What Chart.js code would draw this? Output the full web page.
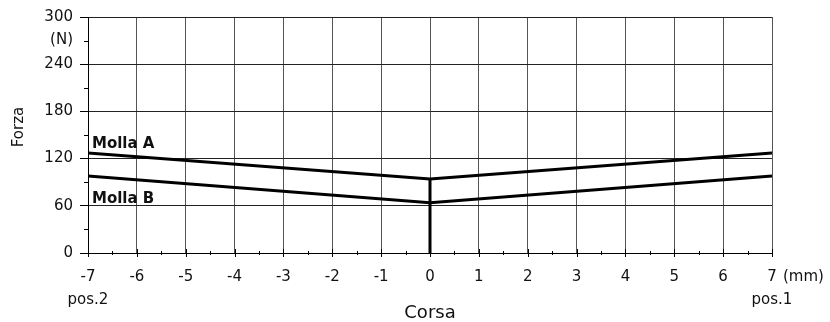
<!DOCTYPE html>
<html>
<head>
<meta charset="utf-8">
<script src="https://cdn.jsdelivr.net/npm/chart.js@4.4.1/dist/chart.umd.min.js"></script>
<style>
  html, body { margin: 0; padding: 0; background: #fff; }
  #wrap { width: 830px; height: 322px; }
</style>
</head>
<body>
<div id="wrap"><canvas id="chart" width="830" height="322"></canvas></div>
<script>
const travel = [-7, 0, 7];
const mollaA = [127, 94, 127];
const mollaB = [98, 64, 98];
const stem = [0, 94];
const xTicks = [-7, -6, -5, -4, -3, -2, -1, 0, 1, 2, 3, 4, 5, 6, 7];
const yTicks = [0, 60, 120, 180, 240, 300];
const seriesNames = ['Molla A', 'Molla B'];

const FONT = 'DejaVu Sans, Verdana, sans-serif';

const toPoints = (xs, ys) => xs.map((x, i) => ({ x, y: ys[i] }));

// extra marks: minor ticks, axis titles, units, position labels, series names
const decorations = {
  id: 'decorations',
  afterDraw(chart) {
    const { ctx, scales: { x, y }, chartArea } = chart;
    ctx.save();
    ctx.strokeStyle = '#000';
    ctx.lineWidth = 1;

    // y minor ticks
    for (let v = 30; v < 300; v += 60) {
      const py = Math.round(y.getPixelForValue(v)) + 0.5;
      ctx.beginPath();
      ctx.moveTo(chartArea.left - 4, py);
      ctx.lineTo(chartArea.left, py);
      ctx.stroke();
    }
    // x ticks: majors cross the axis, minors small
    for (let v = -7; v <= 7; v += 0.5) {
      const px = Math.round(x.getPixelForValue(v)) + 0.5;
      const major = Number.isInteger(v);
      ctx.beginPath();
      ctx.moveTo(px, chartArea.bottom - (major ? 4 : 2));
      ctx.lineTo(px, chartArea.bottom + (major ? 4 : 2));
      ctx.stroke();
    }

    ctx.fillStyle = '#111';
    ctx.font = `15px ${FONT}`;
    ctx.textBaseline = 'middle';

    ctx.textAlign = 'left';
    ctx.fillText('(mm)', x.getPixelForValue(7) + 11, 277);

    ctx.textAlign = 'center';
    ctx.fillText('pos.2', x.getPixelForValue(-7), 300);
    ctx.fillText('pos.1', x.getPixelForValue(7), 300);

    ctx.save();
    ctx.translate(19, 127);
    ctx.rotate(-Math.PI / 2);
    ctx.fillText('Forza', 0, 0);
    ctx.restore();

    ctx.font = `18px ${FONT}`;
    ctx.fillText('Corsa', (chartArea.left + chartArea.right) / 2, 313);

    ctx.font = `bold 15px ${FONT}`;
    ctx.textAlign = 'left';
    ctx.textBaseline = 'alphabetic';
    const left = x.getPixelForValue(travel[0]) + 4;
    ctx.fillText(seriesNames[0], left, y.getPixelForValue(mollaA[0]) - 5);
    ctx.fillText(seriesNames[1], left, y.getPixelForValue(mollaB[0]) + 27);
    ctx.restore();
  }
};

const lineStyle = {
  borderColor: '#000',
  borderWidth: 3,
  pointRadius: 0,
  fill: false,
  tension: 0
};

new Chart(document.getElementById('chart'), {
  type: 'line',
  data: {
    datasets: [
      { label: seriesNames[0], data: toPoints(travel, mollaA), ...lineStyle },
      { label: seriesNames[1], data: toPoints(travel, mollaB), ...lineStyle },
      { label: 'stem', data: toPoints([0, 0], stem), ...lineStyle }
    ]
  },
  options: {
    responsive: false,
    animation: false,
    layout: { padding: { left: 0, right: 58, top: 17, bottom: 0 } },
    plugins: { legend: { display: false }, tooltip: { enabled: false } },
    scales: {
      x: {
        type: 'linear',
        min: -7,
        max: 7,
        afterFit: (scale) => { scale.height = 69; },
        afterBuildTicks: (scale) => { scale.ticks = xTicks.map((value) => ({ value })); },
        ticks: {
          color: '#111',
          font: { family: FONT, size: 15 },
          padding: 11,
          maxRotation: 0,
          autoSkip: false,
          callback: (v) => String(v)
        },
        grid: { color: '#555', lineWidth: 1, drawTicks: true, tickLength: 4, tickColor: 'transparent' },
        border: { color: '#000', width: 1 }
      },
      y: {
        min: 0,
        max: 300,
        afterFit: (scale) => { scale.width = 88; },
        afterBuildTicks: (scale) => {
          scale.ticks = [...yTicks, 270].sort((a, b) => a - b).map((value) => ({ value }));
        },
        ticks: {
          color: '#111',
          font: { family: FONT, size: 15 },
          padding: 7,
          autoSkip: false,
          callback: (v) => (v === 270 ? '(N)' : String(v))
        },
        grid: {
          color: (c) => (c.tick && c.tick.value % 60 === 0 ? '#222' : 'transparent'),
          tickColor: (c) => (c.tick && c.tick.value % 60 === 0 ? '#000' : 'transparent'),
          lineWidth: 1,
          tickLength: 8
        },
        border: { color: '#000', width: 1 }
      }
    }
  },
  plugins: [decorations]
});
</script>
</body>
</html>
